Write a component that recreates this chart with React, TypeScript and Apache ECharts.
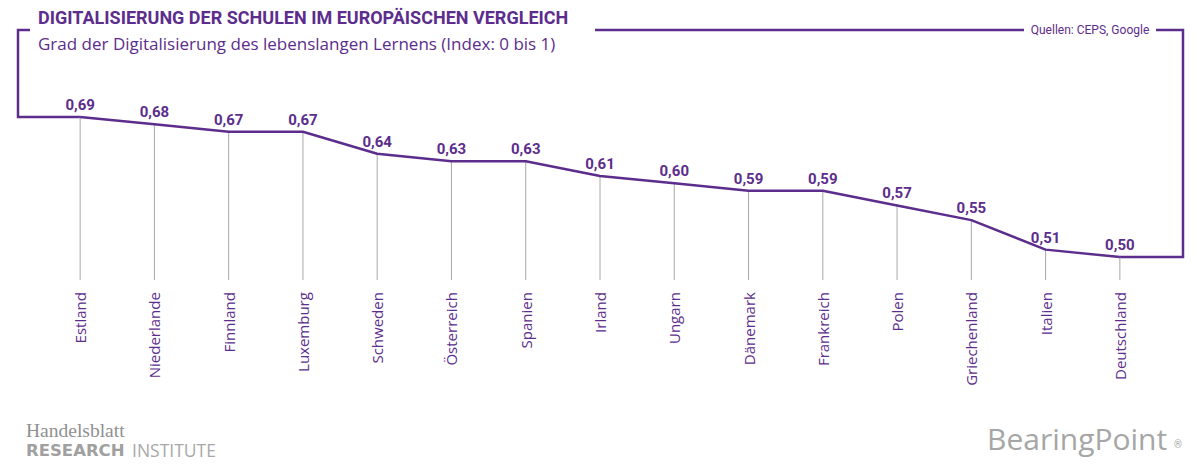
import React, { useEffect, useRef } from "react";
import * as echarts from "echarts";

const countries = [
  "Estland", "Niederlande", "Finnland", "Luxemburg", "Schweden", "Österreich", "Spanien",
  "Irland", "Ungarn", "Dänemark", "Frankreich", "Polen", "Griechenland", "Italien", "Deutschland",
];
const values = [0.69, 0.68, 0.67, 0.67, 0.64, 0.63, 0.63, 0.61, 0.60, 0.59, 0.59, 0.57, 0.55, 0.51, 0.50];

const TITLE = "DIGITALISIERUNG DER SCHULEN IM EUROPÄISCHEN VERGLEICH";
const SUBTITLE = "Grad der Digitalisierung des lebenslangen Lernens (Index: 0 bis 1)";
const SOURCE = "Quellen: CEPS, Google";

const Y_MIN = 0.47;
const Y_MAX = 0.70;
const PURPLE = "#5c2d8c";
const FONT = "Roboto";

export default function App() {
  const ref = useRef<HTMLDivElement>(null);
  useEffect(() => {
    if (!ref.current) return;
    const chart = echarts.init(ref.current, undefined, { renderer: "svg" });
    const option: any = {
      animation: false,
      backgroundColor: "#ffffff",
      grid: { left: 43, right: 43, top: 109.6, bottom: 187.9 },
      xAxis: {
        type: "category",
        data: countries,
        boundaryGap: true,
        axisLine: { show: false },
        axisTick: { show: false },
        axisLabel: {
          rotate: 90,
          margin: 13,
          color: PURPLE,
          fontSize: 15,
          fontFamily: "Open Sans",
        },
      },
      yAxis: {
        type: "value",
        min: Y_MIN,
        max: Y_MAX,
        show: false,
        splitLine: { show: false },
      },
      series: [
        {
          type: "custom",
          z: 1,
          data: values.map((v, i) => [i, v]),
          renderItem: (params: any, api: any) => {
            const p = api.coord([api.value(0), api.value(1)]);
            const b = api.coord([api.value(0), Y_MIN]);
            return {
              type: "line",
              shape: { x1: p[0], y1: p[1], x2: b[0], y2: b[1] + 1 },
              style: { stroke: "#a8a8a8", lineWidth: 1 },
            };
          },
        },
        {
          type: "line",
          z: 3,
          data: values,
          symbol: "circle",
          symbolSize: 1,
          showSymbol: true,
          itemStyle: { color: PURPLE },
          lineStyle: { color: PURPLE, width: 2.5 },
          label: {
            show: true,
            position: "top",
            distance: 4,
            color: PURPLE,
            fontSize: 15,
            fontWeight: "bold",
            fontFamily: FONT,
            formatter: (p: any) => p.value.toFixed(2).replace(".", ","),
          },
        },
      ],
    };
    chart.setOption(option);
    const first = chart.convertToPixel({ seriesIndex: 1 }, [0, values[0]]) as number[];
    const last = chart.convertToPixel({ seriesIndex: 1 }, [values.length - 1, values[values.length - 1]]) as number[];
    const frameStyle = { stroke: PURPLE, lineWidth: 2.5, fill: null };
    chart.setOption({
      graphic: [
        {
          type: "polyline",
          shape: { points: [[first[0], first[1]], [18, first[1]], [18, 30], [30, 30]] },
          style: frameStyle,
        },
        {
          type: "polyline",
          shape: { points: [[595, 30], [1024, 30]] },
          style: frameStyle,
        },
        {
          type: "polyline",
          shape: { points: [[1156, 30], [1183, 30], [1183, last[1]], [last[0], last[1]]] },
          style: frameStyle,
        },
        {
          type: "text",
          x: 38,
          y: 17,
          style: {
            text: TITLE,
            fill: PURPLE,
            font: `bold 18px ${FONT}`,
            textVerticalAlign: "middle",
          },
        },
        {
          type: "text",
          x: 38,
          y: 43,
          style: {
            text: SUBTITLE,
            fill: PURPLE,
            font: `17px "Open Sans"`,
            textVerticalAlign: "middle",
          },
        },
        {
          type: "text",
          x: 1090,
          y: 30,
          style: {
            text: SOURCE,
            fill: PURPLE,
            font: `12px ${FONT}`,
            textAlign: "center",
            textVerticalAlign: "middle",
          },
        },
        {
          type: "text",
          x: 26,
          y: 430,
          style: {
            text: "Handelsblatt",
            fill: "#909090",
            font: `19.5px "Liberation Serif"`,
            textVerticalAlign: "middle",
          },
        },
        {
          type: "text",
          x: 26,
          y: 450,
          style: {
            text: "RESEARCH",
            fill: "#a0a0a0",
            font: `bold 16.5px "DejaVu Sans"`,
            textVerticalAlign: "middle",
          },
        },
        {
          type: "text",
          x: 132,
          y: 450,
          style: {
            text: "INSTITUTE",
            fill: "#a8a8a8",
            font: `17.5px "Open Sans"`,
            textVerticalAlign: "middle",
          },
        },
        {
          type: "text",
          x: 987,
          y: 438,
          style: {
            text: "BearingPoint",
            fill: "#a6a6a6",
            font: `30px "Open Sans"`,
            textVerticalAlign: "middle",
          },
        },
        {
          type: "text",
          x: 1174,
          y: 444,
          style: {
            text: "®",
            fill: "#a6a6a6",
            font: `10px ${FONT}`,
            textVerticalAlign: "middle",
          },
        },
      ],
    });
    return () => chart.dispose();
  }, []);
  return <div ref={ref} style={{ width: 1200, height: 467, position: "absolute", left: 0, top: 0 }} />;
}
